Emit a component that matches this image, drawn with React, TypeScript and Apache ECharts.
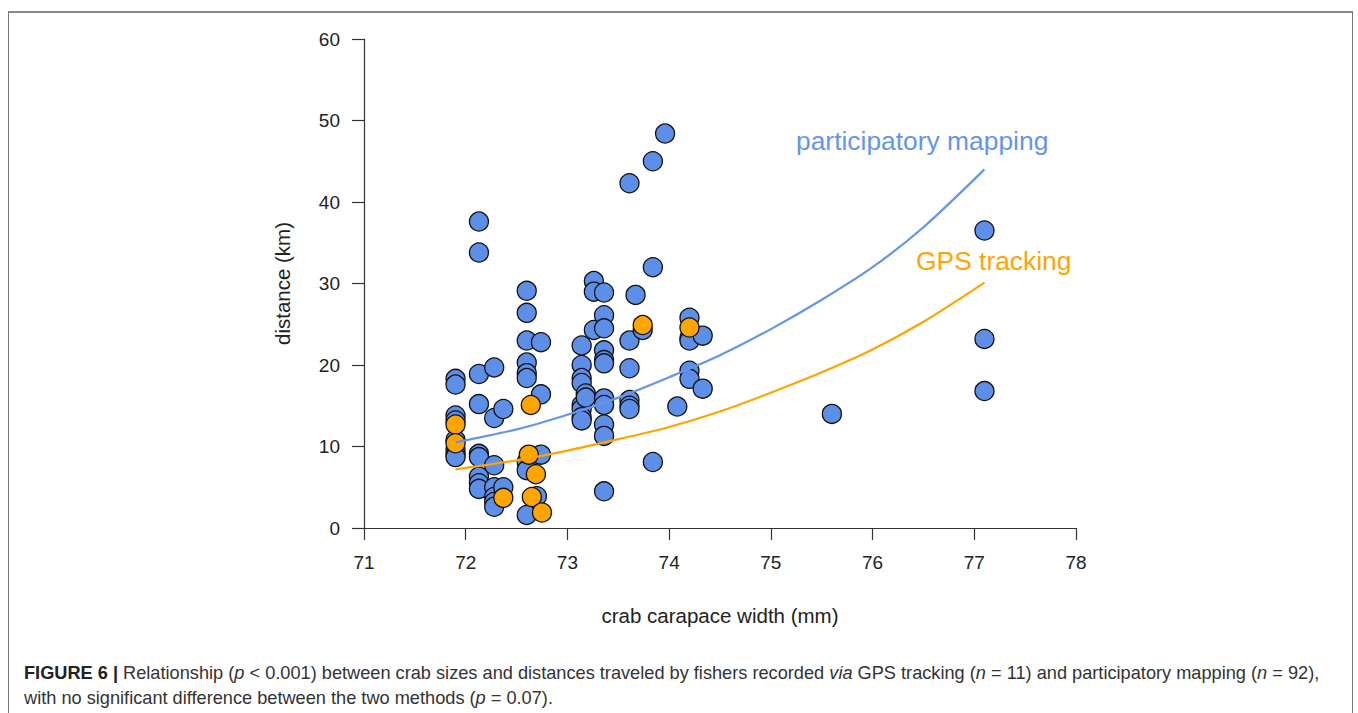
import React, { useEffect, useRef } from "react";
import * as echarts from "echarts";

// participatory mapping observations: [carapace width (mm), distance (km)]
const participatoryPoints: [number, number][] = [
  [71.9, 18.3], [71.9, 17.6], [71.9, 13.8], [71.9, 13.2], [71.9, 10.8], [71.9, 9.6], [71.9, 9.0], [71.9, 8.7],
  [72.13, 37.6], [72.13, 33.8], [72.13, 18.9], [72.13, 15.2], [72.13, 9.1], [72.13, 8.7], [72.13, 6.3], [72.13, 5.5], [72.13, 4.8],
  [72.28, 19.7], [72.28, 13.5], [72.28, 7.7], [72.28, 5.0], [72.28, 3.8], [72.28, 3.2], [72.28, 2.6],
  [72.37, 14.6], [72.37, 5.0],
  [72.6, 29.1], [72.6, 26.4], [72.6, 23.0], [72.6, 20.3], [72.6, 19.0], [72.6, 18.4], [72.6, 8.1], [72.6, 7.1], [72.6, 1.6],
  [72.74, 22.8], [72.74, 16.4], [72.74, 9.0], [72.7, 3.9],
  [73.14, 22.4], [73.14, 20.0], [73.14, 18.4], [73.14, 17.8], [73.14, 15.1], [73.14, 14.6], [73.14, 13.6], [73.14, 13.2],
  [73.18, 16.5], [73.18, 16.0],
  [73.26, 30.3], [73.26, 29.0], [73.26, 24.3],
  [73.36, 28.9], [73.36, 26.1], [73.36, 24.5], [73.36, 21.8], [73.36, 20.6], [73.36, 20.2], [73.36, 15.9], [73.36, 15.1], [73.36, 12.7], [73.36, 11.3], [73.36, 4.5],
  [73.61, 42.3], [73.61, 23.0], [73.61, 19.6], [73.61, 15.7], [73.61, 15.0], [73.61, 14.6],
  [73.67, 28.6],
  [73.74, 24.3],
  [73.84, 45.0], [73.84, 32.0], [73.84, 8.1],
  [73.96, 48.4],
  [74.08, 14.9],
  [74.2, 25.8], [74.2, 23.3], [74.2, 23.0], [74.2, 19.3], [74.2, 18.3],
  [74.33, 23.6], [74.33, 17.1],
  [75.6, 14.0],
  [77.1, 36.5], [77.1, 23.2], [77.1, 16.8],
];

// GPS tracking observations
const gpsPoints: [number, number][] = [
  [71.9, 12.7], [71.9, 10.4], [72.37, 3.7], [72.64, 15.1], [72.62, 9.0],
  [72.69, 6.6], [72.65, 3.8], [72.75, 1.9], [73.74, 24.9], [74.2, 24.6],
];

// fitted curves
const participatoryFit: [number, number][] = [
  [71.9, 10.5], [72.5, 12.1], [73, 13.9], [73.5, 16.0], [74, 18.5], [74.5, 21.2],
  [75, 24.4], [75.5, 28.0], [76, 32.0], [76.5, 36.9], [77.1, 44.0],
];
const gpsFit: [number, number][] = [
  [71.9, 7.2], [72.5, 8.3], [73, 9.5], [73.5, 10.9], [74, 12.4], [74.5, 14.3],
  [75, 16.6], [75.5, 19.1], [76, 21.9], [76.5, 25.3], [77.1, 30.1],
];

const BLUE_PT = "#5E8FE8";
const BLUE_LINE = "#6495ED";
const ORANGE = "#FFA500";
const FONT = "'Liberation Sans', Arial, sans-serif";

export default function App() {
  const ref = useRef<HTMLDivElement>(null);

  useEffect(() => {
    document.body.style.margin = "0";
    if (!ref.current) return;
    const chart = echarts.init(ref.current, undefined, { renderer: "svg" });
    const axisCommon = {
      axisLine: { show: true, lineStyle: { color: "#333", width: 1.2 } },
      axisTick: { show: true, inside: false, length: 12, lineStyle: { color: "#333", width: 1.2 } },
      splitLine: { show: false },
    };
    chart.setOption({
      animation: false,
      textStyle: { fontFamily: FONT },
      grid: { left: 364, top: 39, right: 282, bottom: 185, containLabel: false },
      xAxis: {
        type: "value",
        min: 71,
        max: 78,
        interval: 1,
        ...axisCommon,
        axisLabel: { fontSize: 19, color: "#222", margin: 25, fontFamily: FONT },
        name: "crab carapace width (mm)",
        nameLocation: "middle",
        nameGap: 77,
        nameTextStyle: { fontSize: 20.5, color: "#222", fontFamily: FONT },
      },
      yAxis: {
        type: "value",
        min: 0,
        max: 60,
        interval: 10,
        ...axisCommon,
        axisLabel: { fontSize: 19, color: "#222", margin: 24, fontFamily: FONT },
        name: "distance (km)",
        nameLocation: "middle",
        nameGap: 71,
        nameTextStyle: { fontSize: 20.5, color: "#222", fontFamily: FONT },
      },
      graphic: [
        {
          type: "text",
          left: 796,
          top: 128,
          style: { text: "participatory mapping", fill: BLUE_LINE, fontSize: 26.4, fontFamily: FONT },
        },
        {
          type: "text",
          left: 916,
          top: 248,
          style: { text: "GPS tracking", fill: ORANGE, fontSize: 26.4, fontFamily: FONT },
        },
      ],
      series: [
        {
          type: "scatter",
          name: "participatory mapping",
          data: participatoryPoints,
          symbolSize: 19,
          itemStyle: { color: BLUE_PT, borderColor: "#111", borderWidth: 1.3, opacity: 1 },
          z: 2,
        },
        {
          type: "scatter",
          name: "GPS tracking",
          data: gpsPoints,
          symbolSize: 19,
          itemStyle: { color: ORANGE, borderColor: "#111", borderWidth: 1.3, opacity: 1 },
          z: 3,
        },
        {
          type: "line",
          data: participatoryFit,
          smooth: 0.3,
          showSymbol: false,
          symbol: "none",
          lineStyle: { color: BLUE_LINE, width: 2.2, join: "round" },
          z: 4,
        },
        {
          type: "line",
          data: gpsFit,
          smooth: 0.3,
          showSymbol: false,
          symbol: "none",
          lineStyle: { color: ORANGE, width: 2.2, join: "round" },
          z: 4,
        },
      ],
    });
    return () => chart.dispose();
  }, []);

  return (
    <div style={{ position: "relative", width: 1358, height: 713, overflow: "hidden", background: "#fff" }}>
      <div
        style={{
          position: "absolute",
          left: 8,
          top: 11,
          width: 1345,
          height: 740,
          borderLeft: "1.5px solid #777",
          borderRight: "1.5px solid #777",
          borderTop: "2px solid #888",
          boxSizing: "border-box",
        }}
      />
      <div ref={ref} style={{ position: "absolute", left: 0, top: 0, width: 1358, height: 713 }} />
      <div
        style={{
          position: "absolute",
          left: 24,
          top: 661,
          fontFamily: FONT,
          fontSize: 18.2,
          lineHeight: "25px",
          color: "#333",
          whiteSpace: "nowrap",
        }}
      >
        <b style={{ color: "#222" }}>FIGURE 6 |</b> Relationship (<i>p</i> &lt; 0.001) between crab sizes and distances
        traveled by fishers recorded <i>via</i> GPS tracking (<i>n</i> = 11) and participatory mapping (<i>n</i> = 92),
        <br />
        with no significant difference between the two methods (<i>p</i> = 0.07).
      </div>
    </div>
  );
}
